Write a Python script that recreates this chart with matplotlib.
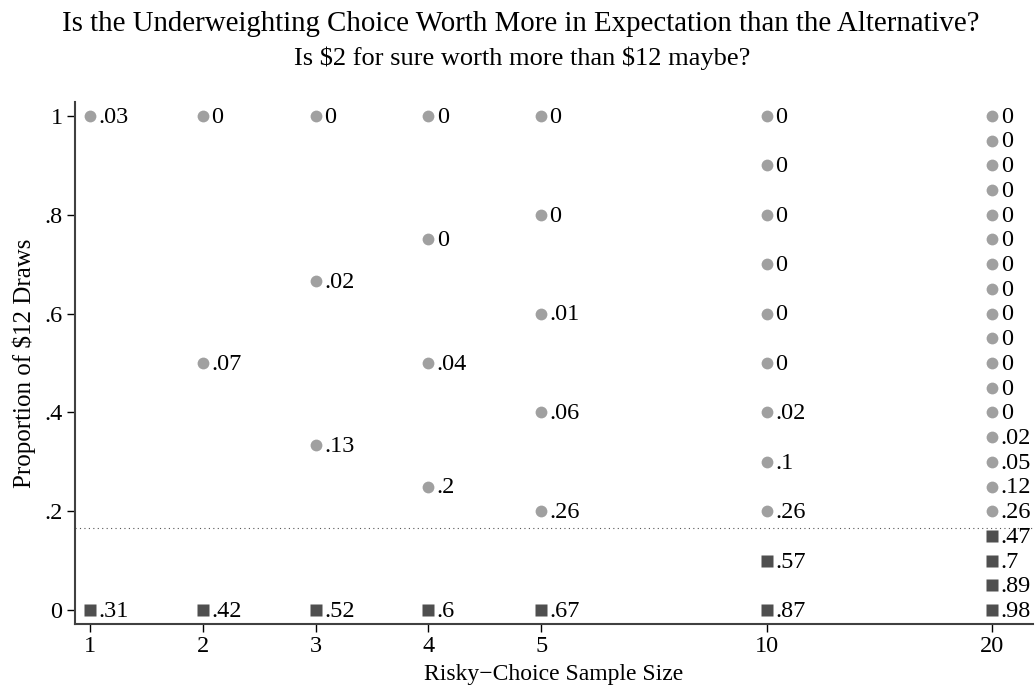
"""
Underweighting choice chart: proportion of $12 draws vs risky-choice sample size.
"""
import matplotlib
matplotlib.use("Agg")
import matplotlib.pyplot as plt

plt.rcParams["font.family"] = ["Liberation Serif", "DejaVu Serif"]

# sample sizes shown as categories (evenly spaced 1-5, then gaps)
sample_sizes = [1, 2, 3, 4, 5, 10, 20]
x_positions = [1, 2, 3, 4, 5, 7, 9]

# proportion of $12 draws for each point, and the label printed beside it
proportions = {
    1: [1, 0],
    2: [1, 0.5, 0],
    3: [1, 2 / 3, 1 / 3, 0],
    4: [1, 0.75, 0.5, 0.25, 0],
    5: [1, 0.8, 0.6, 0.4, 0.2, 0],
    10: [1, 0.9, 0.8, 0.7, 0.6, 0.5, 0.4, 0.3, 0.2, 0.1, 0],
    20: [1, 0.95, 0.9, 0.85, 0.8, 0.75, 0.7, 0.65, 0.6, 0.55, 0.5, 0.45,
         0.4, 0.35, 0.3, 0.25, 0.2, 0.15, 0.1, 0.05, 0],
}
labels = {
    1: [".03", ".31"],
    2: ["0", ".07", ".42"],
    3: ["0", ".02", ".13", ".52"],
    4: ["0", "0", ".04", ".2", ".6"],
    5: ["0", "0", ".01", ".06", ".26", ".67"],
    10: ["0", "0", "0", "0", "0", "0", ".02", ".1", ".26", ".57", ".87"],
    20: ["0"] * 13 + [".02", ".05", ".12", ".26", ".47", ".7", ".89", ".98"],
}
threshold = 2 / 12
y_ticks = [0, 0.2, 0.4, 0.6, 0.8, 1]
y_tick_labels = ["0", ".2", ".4", ".6", ".8", "1"]

fig = plt.figure(figsize=(10.35, 6.9), dpi=100)
ax = fig.add_axes([75 / 1035, 66 / 690, 958 / 1035, 522 / 690])

for n, xp in zip(sample_sizes, x_positions):
    for p, lab in zip(proportions[n], labels[n]):
        if p > threshold:
            ax.plot(xp, p, "o", ms=8.5, color="#a0a0a0", mec="none")
        else:
            ax.plot(xp, p, "s", ms=9, color="#4f4f4f", mec="none")
        ax.annotate(lab, (xp, p), xytext=(6, -1), textcoords="offset points",
                    ha="left", va="center", fontsize=17.5, color="black")

ax.axhline(threshold, color="#555555", lw=0.8, ls=(0, (1, 3)))

ax.set_xlim(0.867, 9.36)
ax.set_ylim(-0.028, 1.028)
ax.set_xticks(x_positions)
ax.set_xticklabels([str(s) for s in sample_sizes])
ax.set_yticks(y_ticks)
ax.set_yticklabels(y_tick_labels)
ax.tick_params(labelsize=17.5, length=6, width=1, color="black", pad=3)

for side in ["top", "right"]:
    ax.spines[side].set_visible(False)
for side in ["left", "bottom"]:
    ax.spines[side].set_color("#404040")
    ax.spines[side].set_linewidth(1.5)

ax.set_xlabel("Risky\u2212Choice Sample Size", fontsize=17, labelpad=5)
ax.set_ylabel("Proportion of \\$12 Draws", fontsize=18, labelpad=6)

fig.text(521 / 1035, 1 - 24 / 690,
         "Is the Underweighting Choice Worth More in Expectation than the Alternative?",
         ha="center", va="center", fontsize=20.8)
fig.text(522 / 1035, 1 - 58 / 690, "Is \\$2 for sure worth more than \\$12 maybe?",
         ha="center", va="center", fontsize=19)

fig.savefig("out.png", dpi=100)
